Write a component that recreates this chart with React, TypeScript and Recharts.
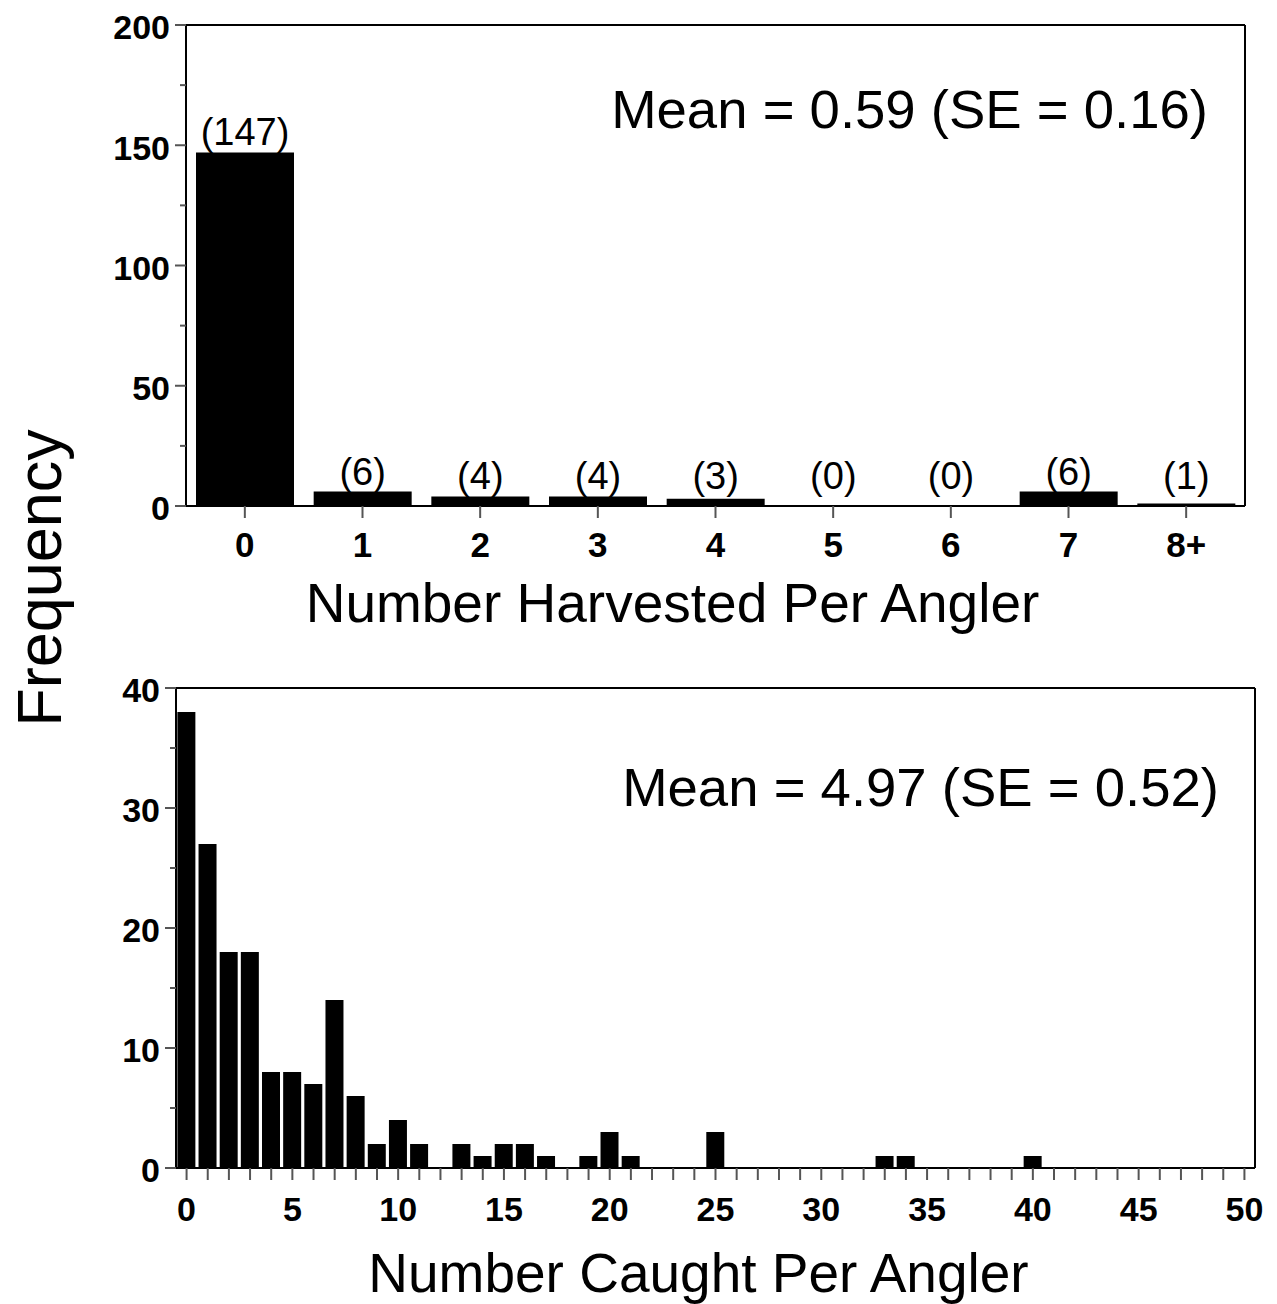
import React from "react";
import { BarChart, Bar, XAxis, YAxis, LabelList } from "recharts";

// top panel: number harvested per angler
const harvestCategories = ["0", "1", "2", "3", "4", "5", "6", "7", "8+"];
const harvestCounts = [147, 6, 4, 4, 3, 0, 0, 6, 1];
const harvestTicks = [0, 25, 50, 75, 100, 125, 150, 175, 200];

// bottom panel: number caught per angler, 0..50
const catchCounts = [
  38, 27, 18, 18, 8, 8, 7, 14, 6, 2, 4, 2, 0, 2, 1, 2, 2, 1, 0, 1, 3, 1, 0, 0, 0,
  3, 0, 0, 0, 0, 0, 0, 0, 1, 1, 0, 0, 0, 0, 0, 1, 0, 0, 0, 0, 0, 0, 0, 0, 0, 0,
];
const catchTicks = [0, 5, 10, 15, 20, 25, 30, 35, 40];

const harvestData = harvestCategories.map((c, i) => ({ cat: c, count: harvestCounts[i] }));
const catchData = catchCounts.map((v, i) => ({ cat: i, count: v }));

const FONT = "'Liberation Sans', Arial, Helvetica, sans-serif";
const TICK_STROKE = "#555";

function YTick(props: any) {
  const { x, y, payload, step, fontSize } = props;
  const major = payload.value % step === 0;
  return (
    <g>
      <line x1={x - (major ? 11 : 6)} x2={x} y1={y} y2={y} stroke={TICK_STROKE} strokeWidth={2} />
      {major && (
        <text
          x={x - 16}
          y={y}
          dy="0.42em"
          textAnchor="end"
          fontFamily={FONT}
          fontWeight="bold"
          fontSize={fontSize}
          fill="#000"
        >
          {payload.value}
        </text>
      )}
    </g>
  );
}

function XTick(props: any) {
  const { x, y, payload, every, fontSize, labelY } = props;
  const v = payload.value;
  const show = every ? Number(v) % every === 0 : true;
  return (
    <g>
      <line x1={x} x2={x} y1={y} y2={y + 12} stroke={TICK_STROKE} strokeWidth={2} />
      {show && (
        <text
          x={x}
          y={y + labelY}
          textAnchor="middle"
          fontFamily={FONT}
          fontWeight="bold"
          fontSize={fontSize}
          fill="#000"
        >
          {v}
        </text>
      )}
    </g>
  );
}

// count label above each bar; short bars get their label lifted a little
function CountLabel(props: any) {
  const { x, y, width, height, value } = props;
  const base = y + height;
  const ty = Math.min(y, base - 10) - 7;
  return (
    <text x={x + width / 2} y={ty} textAnchor="middle" fontFamily={FONT} fontSize={38} fill="#000">
      {`(${value})`}
    </text>
  );
}

const boxLine = { stroke: "#000", strokeWidth: 2 };

export default function App() {
  return (
    <div
      style={{
        position: "absolute",
        left: 0,
        top: 0,
        width: 1277,
        height: 1304,
        background: "#fff",
        fontFamily: FONT,
      }}
    >
      <div style={{ position: "absolute", left: 0, top: 0 }}>
        <BarChart
          width={1277}
          height={640}
          data={harvestData}
          margin={{ top: 24, right: 31, left: 0, bottom: 0 }}
          barCategoryGap="8.5%"
        >
          <XAxis
            dataKey="cat"
            height={134}
            interval={0}
            tickLine={false}
            tickSize={0}
            tickMargin={0}
            axisLine={boxLine}
            tick={(p: any) => <XTick {...p} fontSize={35} labelY={51} />}
            label={{
              value: "Number Harvested Per Angler",
              position: "insideBottom",
              offset: 18,
              dx: -43,
              fontSize: 55,
              fill: "#000",
              fontFamily: FONT,
            }}
          />
          <XAxis
            xAxisId="top"
            dataKey="cat"
            orientation="top"
            height={1}
            tick={false}
            tickLine={false}
            axisLine={boxLine}
          />
          <YAxis
            width={186}
            domain={[0, 200]}
            ticks={harvestTicks}
            interval={0}
            tickLine={false}
            tickSize={0}
            tickMargin={0}
            axisLine={boxLine}
            tick={(p: any) => <YTick {...p} step={50} fontSize={34} />}
          />
          <YAxis
            yAxisId="right"
            orientation="right"
            width={1}
            type="number"
            domain={[0, 200]}
            tick={false}
            tickLine={false}
            axisLine={boxLine}
          />
          <Bar dataKey="count" fill="#000" minPointSize={1} isAnimationActive={false}>
            <LabelList dataKey="count" content={<CountLabel />} />
          </Bar>
        </BarChart>
      </div>

      <div style={{ position: "absolute", left: 0, top: 640 }}>
        <BarChart
          width={1277}
          height={664}
          data={catchData}
          margin={{ top: 47, right: 21, left: 0, bottom: 0 }}
          barCategoryGap="6.5%"
        >
          <XAxis
            dataKey="cat"
            height={136}
            interval={0}
            tickLine={false}
            tickSize={0}
            tickMargin={0}
            axisLine={boxLine}
            tick={(p: any) => <XTick {...p} every={5} fontSize={34} labelY={53} />}
            label={{
              value: "Number Caught Per Angler",
              position: "insideBottom",
              offset: 12,
              dx: -17,
              fontSize: 55,
              fill: "#000",
              fontFamily: FONT,
            }}
          />
          <XAxis
            xAxisId="top"
            dataKey="cat"
            orientation="top"
            height={1}
            tick={false}
            tickLine={false}
            axisLine={boxLine}
          />
          <YAxis
            width={176}
            domain={[0, 40]}
            ticks={catchTicks}
            interval={0}
            tickLine={false}
            tickSize={0}
            tickMargin={0}
            axisLine={boxLine}
            tick={(p: any) => <YTick {...p} step={10} fontSize={34} />}
          />
          <YAxis
            yAxisId="right"
            orientation="right"
            width={1}
            type="number"
            domain={[0, 40]}
            tick={false}
            tickLine={false}
            axisLine={boxLine}
          />
          <Bar dataKey="count" fill="#000" isAnimationActive={false} />
        </BarChart>
      </div>

      <div
        style={{
          position: "absolute",
          right: 69,
          top: 83,
          fontSize: 54.5,
          lineHeight: 1,
          whiteSpace: "nowrap",
          color: "#000",
        }}
      >
        Mean = 0.59 (SE = 0.16)
      </div>
      <div
        style={{
          position: "absolute",
          right: 58,
          top: 761,
          fontSize: 54.5,
          lineHeight: 1,
          whiteSpace: "nowrap",
          color: "#000",
        }}
      >
        Mean = 4.97 (SE = 0.52)
      </div>
      <div
        style={{
          position: "absolute",
          left: 39,
          top: 578,
          fontSize: 63,
          lineHeight: 1,
          whiteSpace: "nowrap",
          color: "#000",
          transform: "translate(-50%, -50%) rotate(-90deg)",
        }}
      >
        Frequency
      </div>
    </div>
  );
}
